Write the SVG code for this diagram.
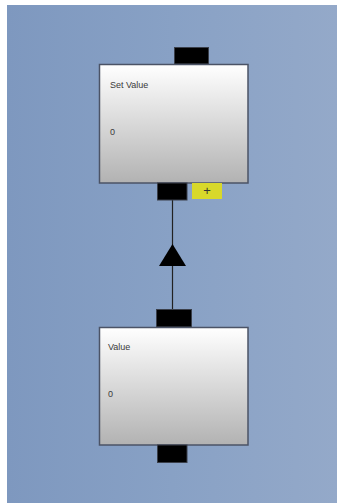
<svg xmlns="http://www.w3.org/2000/svg" width="337" height="503" viewBox="0 0 337 503">
<defs>
<linearGradient id="bg" x1="0" y1="0" x2="1" y2="0">
<stop offset="0" stop-color="#7e98bf"/>
<stop offset="0.5" stop-color="#88a1c5"/>
<stop offset="1" stop-color="#94a9c9"/>
</linearGradient>
<linearGradient id="box" x1="0" y1="0" x2="0" y2="1">
<stop offset="0" stop-color="#ffffff"/>
<stop offset="1" stop-color="#b2b2b2"/>
</linearGradient>
</defs>
<style>
.box{fill:url(#box);stroke:#4b5366;stroke-width:1.5}
.port{fill:#000;stroke:#3a3f4a;stroke-width:1}
.lbl{font-family:"Liberation Sans",Arial,sans-serif;font-size:9px;fill:#3a3a3a}
.edge{stroke:#222;stroke-width:1.2;fill:none}
</style>
<rect x="0" y="0" width="337" height="503" fill="#ffffff"/>
<rect x="7" y="5" width="330" height="498" fill="url(#bg)"/>
<g id="connectors">
<line class="edge" x1="172.5" y1="200" x2="172.5" y2="309"/>
<path d="M172.5,244 L186,266 L159,266 Z" fill="#000"/>
</g>
<g id="node-set-value">
<rect class="port" x="174.5" y="47.5" width="34" height="16.5"/>
<rect class="box" x="99.5" y="64.5" width="148.5" height="118.5"/>
<rect class="port" x="157.5" y="183" width="29.5" height="17"/>
<rect x="192" y="183" width="30" height="16" fill="#d8d82a"/>
<text x="207" y="195" text-anchor="middle" font-family="Liberation Sans,Arial,sans-serif" font-size="13" fill="#333">+</text>
<text class="lbl" x="110" y="88">Set Value</text>
<text class="lbl" x="110" y="135">0</text>
</g>
<g id="node-value">
<rect class="port" x="156.5" y="309.5" width="35" height="17.5"/>
<rect class="box" x="99.5" y="327.5" width="148.5" height="117.5"/>
<rect class="port" x="157.5" y="445" width="29.5" height="17.5"/>
<text class="lbl" x="108" y="350">Value</text>
<text class="lbl" x="108" y="397">0</text>
</g>
</svg>
